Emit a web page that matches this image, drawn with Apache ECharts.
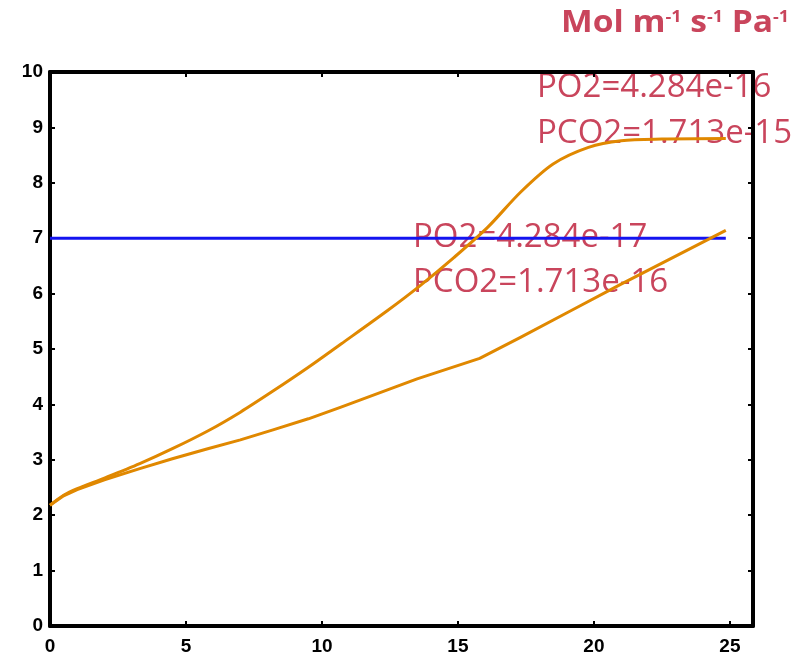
<!DOCTYPE html>
<html>
<head>
<meta charset="utf-8">
<script src="https://cdn.jsdelivr.net/npm/echarts@6/dist/echarts.min.js"></script>
<style>
    html, body { margin: 0; padding: 0; background: #fff; }
    #chart { width: 802px; height: 656px; }
</style>
</head>
<body>
<div id="chart"></div>
<script>
    // upper curve (PO2=4.284e-16)
    var upperX = [0, 0.5, 1, 2, 3.3, 4.5, 5.8, 7, 8.2, 9.5, 10.7, 12.4, 13.6, 14.85, 16.1, 17.3, 18.5, 19.8, 21, 22.5, 24.85];
    var upperY = [2.18, 2.36, 2.48, 2.67, 2.93, 3.2, 3.52, 3.86, 4.24, 4.67, 5.09, 5.69, 6.14, 6.65, 7.2, 7.83, 8.34, 8.64, 8.76, 8.79, 8.8];
    // lower curve (PO2=4.284e-17)
    var lowerX = [0, 0.5, 1, 2, 3.3, 4.5, 5.8, 7, 8.2, 9.5, 10.7, 13.5, 15.8, 17.3, 19.15, 21, 24.85];
    var lowerY = [2.18, 2.35, 2.46, 2.64, 2.84, 3.02, 3.2, 3.36, 3.54, 3.74, 3.95, 4.46, 4.83, 5.21, 5.69, 6.17, 7.14];
    // blue reference line
    var refX = [0, 24.85];
    var refY = [7, 7];

    var xTicks = [0, 5, 10, 15, 20, 25];
    var yTicks = [0, 1, 2, 3, 4, 5, 6, 7, 8, 9, 10];

    function pairs(xs, ys) {
        var out = [];
        for (var i = 0; i < xs.length; i++) {
            out.push([xs[i], ys[i]]);
        }
        return out;
    }

    var labelFont = {
        color: '#000',
        fontFamily: 'Liberation Sans, Arial, sans-serif',
        fontWeight: 'bold',
        fontSize: 19
    };
    var spine = { show: true, onZero: false, lineStyle: { color: '#000', width: 4 } };
    var tick = { show: true, inside: true, length: 5, lineStyle: { color: '#000', width: 2 } };

    var chart = echarts.init(document.getElementById('chart'));
    var annoColor = '#c9455c';
    var annoFont = 'Open Sans, Noto Sans, sans-serif';

    chart.setOption({
        animation: false,
        grid: { left: 50, right: 49, top: 72, bottom: 30, containLabel: false },
        xAxis: [{
            type: 'value', min: 0, max: 25.85, interval: 5,
            axisLine: spine, axisTick: tick, splitLine: { show: false },
            axisLabel: Object.assign({ margin: 11, showMaxLabel: false, formatter: function (v) {
                return xTicks.indexOf(v) >= 0 ? String(v) : '';
            } }, labelFont)
        }, {
            type: 'value', position: 'top', min: 0, max: 25.85, interval: 5,
            axisLine: spine, axisTick: tick, splitLine: { show: false }, axisLabel: { show: false }
        }],
        yAxis: [{
            type: 'value', min: 0, max: 10, interval: 1,
            axisLine: spine, axisTick: tick, splitLine: { show: false },
            axisLabel: Object.assign({ margin: 7, formatter: function (v) {
                return yTicks.indexOf(v) >= 0 ? String(v) : '';
            } }, labelFont)
        }, {
            type: 'value', position: 'right', min: 0, max: 10, interval: 1,
            axisLine: spine, axisTick: tick, splitLine: { show: false }, axisLabel: { show: false }
        }],
        series: [{
            type: 'line', data: pairs(refX, refY), showSymbol: false,
            lineStyle: { color: '#1414f0', width: 3 }
        }, {
            type: 'line', data: pairs(upperX, upperY), showSymbol: false, smooth: 0.3,
            lineStyle: { color: '#e08800', width: 3 }
        }, {
            type: 'line', data: pairs(lowerX, lowerY), showSymbol: false, smooth: false,
            lineStyle: { color: '#e08800', width: 3, join: 'round' }
        }],
        graphic: [{
            type: 'text', left: 561, top: 8, scaleX: 1.12,
            style: {
                text: '{b|Mol m}{s|-1}{b| s}{s|-1}{b| Pa}{s|-1}',
                rich: {
                    b: { fontSize: 30, fontWeight: 'bold', fill: annoColor, fontFamily: annoFont, lineHeight: 36, verticalAlign: 'bottom' },
                    s: { fontSize: 16, fontWeight: 'bold', fill: annoColor, fontFamily: annoFont, lineHeight: 16, verticalAlign: 'bottom', padding: [0, 0, 13, 0] }
                }
            }
        }, {
            type: 'text', left: 537, top: 71,
            style: { text: 'PO2=4.284e-16', fill: annoColor, fontSize: 33, fontFamily: annoFont }
        }, {
            type: 'text', left: 537, top: 117,
            style: { text: 'PCO2=1.713e-15', fill: annoColor, fontSize: 33, fontFamily: annoFont }
        }, {
            type: 'text', left: 413, top: 221,
            style: { text: 'PO2=4.284e-17', fill: annoColor, fontSize: 33, fontFamily: annoFont }
        }, {
            type: 'text', left: 413, top: 266,
            style: { text: 'PCO2=1.713e-16', fill: annoColor, fontSize: 33, fontFamily: annoFont }
        }]
    });
</script>
</body>
</html>
